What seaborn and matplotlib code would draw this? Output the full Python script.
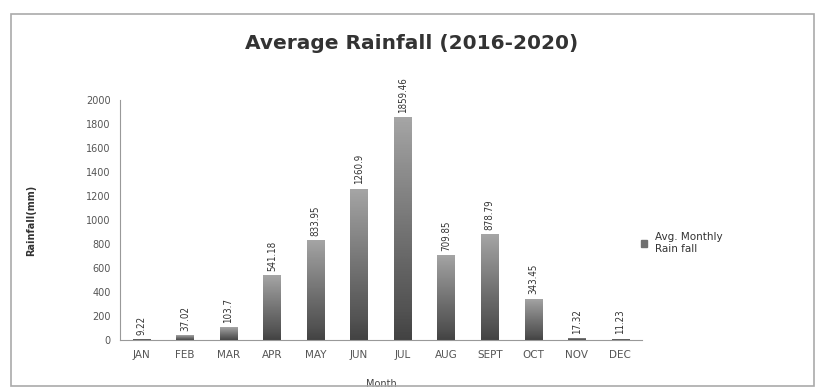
import numpy as np
import pandas as pd
import seaborn as sns
import matplotlib.pyplot as plt
from matplotlib.patches import Rectangle

# 数据
months = ['JAN', 'FEB', 'MAR', 'APR', 'MAY', 'JUN', 'JUL', 'AUG', 'SEPT', 'OCT', 'NOV', 'DEC']
rainfall = [9.22, 37.02, 103.7, 541.18, 833.95, 1260.9, 1859.46, 709.85, 878.79, 343.45, 17.32, 11.23]
yticks = [0, 200, 400, 600, 800, 1000, 1200, 1400, 1600, 1800, 2000]

sns.set_style('white')
plt.rcParams['font.family'] = ['DejaVu Sans']

df = pd.DataFrame({'Month': months, 'Rainfall': rainfall})

fig = plt.figure(figsize=(8.2, 3.92), dpi=100)
ax = fig.add_axes([0.146, 0.133, 0.637, 0.612])

sns.barplot(data=df, x='Month', y='Rainfall', color='#6f6f6f', width=0.4,
            saturation=1, ax=ax)

# 柱子渐变填充（底部深，顶部浅）
grad = np.linspace(0, 1, 256).reshape(-1, 1)
for bar in ax.patches:
    x0, y0 = bar.get_x(), bar.get_y()
    w, h = bar.get_width(), bar.get_height()
    im = ax.imshow(grad, extent=[x0, x0 + w, y0, y0 + h], origin='lower',
                   cmap='Greys_r', vmin=-0.6, vmax=2.3, aspect='auto', zorder=2)
    im.set_clip_path(bar)

ax.bar_label(ax.containers[0], labels=[f'{v:g}' for v in rainfall], rotation=90,
             padding=3, fontsize=7, color='#333333', fontstretch='condensed')

ax.set_xlim(-0.5, 11.5)
ax.set_ylim(0, 2000)
ax.set_yticks(yticks)
ax.tick_params(axis='both', labelsize=7, colors='#555555', length=3)
ax.tick_params(axis='x', labelsize=7.5, pad=4)
for s in ['top', 'right']:
    ax.spines[s].set_visible(False)
ax.spines['left'].set_color('#999999')
ax.spines['bottom'].set_color('#999999')

ax.set_xlabel('Month', fontsize=7, color='#444444', labelpad=14)
ax.set_ylabel('Rainfall(mm)', fontsize=7, color='#333333', fontweight='bold', labelpad=36)

fig.text(0.502, 0.89, 'Average Rainfall (2016-2020)', ha='center', va='center',
         fontsize=14.5, fontweight='bold', color='#333333')

handle = Rectangle((0, 0), 1, 1, color='#6f6f6f')
fig.legend([handle], ['Avg. Monthly\nRain fall'], loc='center left',
           bbox_to_anchor=(0.77, 0.38), frameon=False, fontsize=7.5,
           handlelength=0.6, handleheight=0.6, labelcolor='#333333')

# 外边框
fig.add_artist(Rectangle((0.013, 0.015), 0.98, 0.95, transform=fig.transFigure,
                         fill=False, edgecolor='#aaaaaa', linewidth=1.2))

plt.savefig('out.png', dpi=100)
